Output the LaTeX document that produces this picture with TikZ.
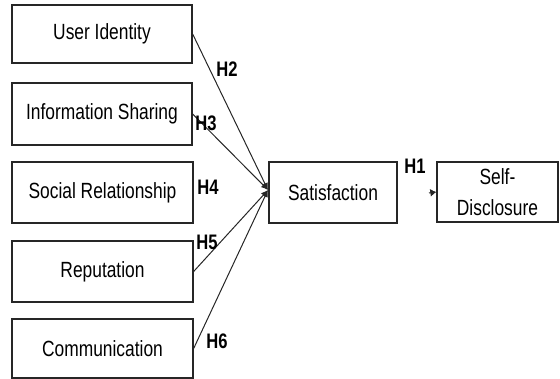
\documentclass[tikz,border=0pt]{standalone}
\usepackage{fontspec}
\setmainfont{Liberation Sans}[FakeStretch=0.79]
\usetikzlibrary{arrows.meta}
\begin{document}
\begin{tikzpicture}[x=1pt,y=-1pt,
  box/.style={draw=black!85,line width=1.3pt,inner sep=0pt,align=center,
    font=\fontsize{22}{31}\selectfont},
  hlabel/.style={font=\fontsize{21}{21}\selectfont\bfseries,inner sep=0pt},
  link/.style={line width=1pt,draw=black!85,-{Latex[length=7pt,width=6pt]}}]
\useasboundingbox (0,0) rectangle (560,379);
\node[box,minimum width=180pt,minimum height=58pt] (ui) at (102,34) {User Identity};
\node[box,minimum width=180pt,minimum height=62pt] (is) at (102,114) {Information Sharing};
\node[box,minimum width=181pt,minimum height=61pt] (sr) at (102.5,192.5) {Social Relationship};
\node[box,minimum width=181pt,minimum height=61pt] (rp) at (102.5,271.5) {Reputation};
\node[box,minimum width=181pt,minimum height=59pt] (cm) at (102.5,348.5) {Communication};
\node[box,minimum width=128pt,minimum height=61pt] (sat) at (333,192.5) {Satisfaction};
\node[box,minimum width=121pt,minimum height=60pt] (sd) at (497.5,192) {Self-\\Disclosure};
\coordinate (conv) at (268,190);
\coordinate (h1s) at (429,193);
\draw[link] (ui.east) -- (conv);
\draw[link] (is.east) -- (conv);
\draw[link] (rp.east) -- (conv);
\draw[link] (cm.east) -- (conv);
\draw[link,-{Latex[length=6pt,width=8pt]}] (h1s) -- (sd.west);
\node[hlabel] (h2) at (227,69) {H2};
\node[hlabel] (h3) at (206,123) {H3};
\node[hlabel] (h4) at (208,187) {H4};
\node[hlabel] (h5) at (207,242) {H5};
\node[hlabel] (h6) at (217,341) {H6};
\node[hlabel] (h1) at (415,166) {H1};
\end{tikzpicture}
\end{document}
